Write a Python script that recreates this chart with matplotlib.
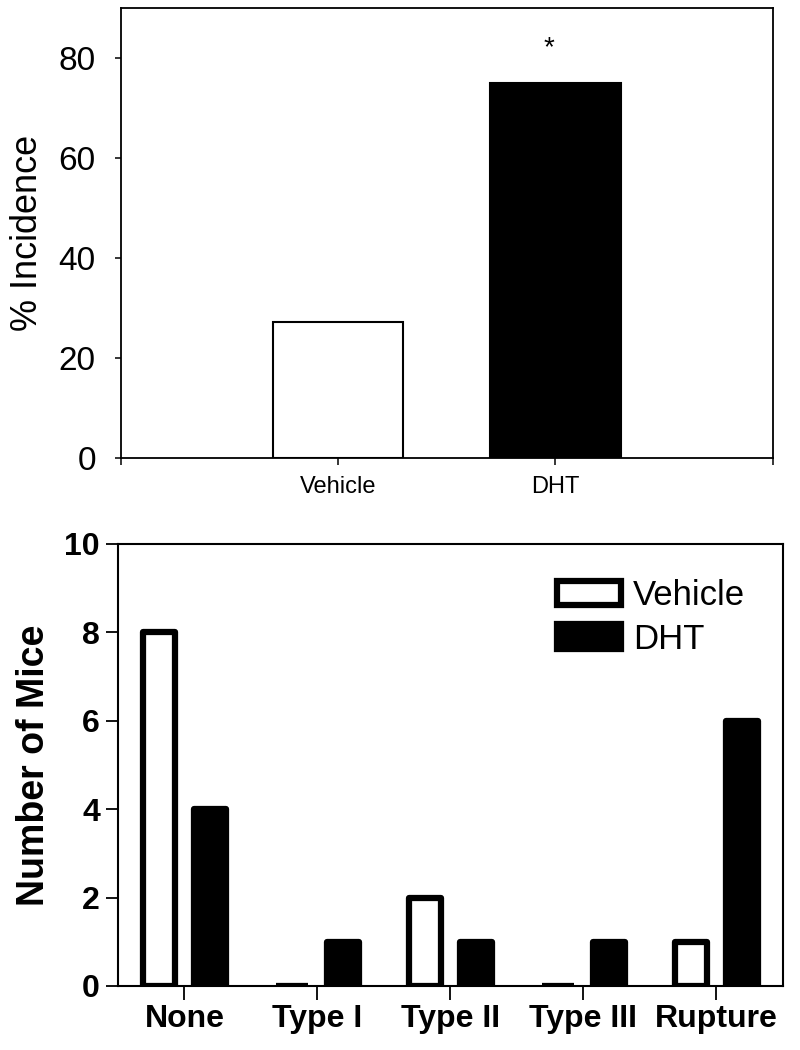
import matplotlib
matplotlib.use("Agg")
import matplotlib.pyplot as plt
import numpy as np

plt.rcParams["font.family"] = ["Liberation Sans", "DejaVu Sans"]

# top panel: % incidence
groups = ["Vehicle", "DHT"]
incidence = [27.3, 75.0]
incidence_colors = ["white", "black"]
star_label = "*"
star_height = 82

# bottom panel: number of mice by category
categories = ["None", "Type I", "Type II", "Type III", "Rupture"]
vehicle_counts = [8, 0, 2, 0, 1]
dht_counts = [4, 1, 1, 1, 6]

fig = plt.figure(figsize=(8, 10.5), dpi=100)

# ---- top panel
ax1 = fig.add_axes([0.151, 0.5638, 0.815, 0.4286])
xpos = np.arange(1, len(groups) + 1)
ax1.bar(xpos, incidence, width=0.6, color=incidence_colors,
        edgecolor="black", linewidth=1.5, zorder=2)
ax1.text(xpos[1] - 0.03, star_height, star_label, ha="center", va="center", fontsize=20)
ax1.set_xlim(0, 3)
ax1.set_ylim(0, 90)
ax1.set_xticks([0, 1, 2, 3])
ax1.set_xticklabels(["", groups[0], groups[1], ""], fontsize=17)
ax1.set_yticks([0, 20, 40, 60, 80])
ax1.tick_params(axis="y", labelsize=24, length=4, width=1.1, pad=14)
ax1.tick_params(axis="x", length=5, width=1.1, pad=8)
ax1.set_ylabel("% Incidence", fontsize=26, labelpad=10)
for sp in ax1.spines.values():
    sp.set_linewidth(1.3)

# ---- bottom panel
ax2 = fig.add_axes([0.1475, 0.061, 0.831, 0.421])
xc = np.arange(len(categories))
off = 0.19
bw = 0.24
ax2.bar(xc - off, vehicle_counts, width=bw, color="white", edgecolor="black",
        linewidth=4.5, joinstyle="round", label="Vehicle", zorder=2)
ax2.bar(xc + off, dht_counts, width=bw, color="black", edgecolor="black",
        linewidth=4.5, joinstyle="round", label="DHT", zorder=2)
ax2.set_xlim(-0.5, 4.5)
ax2.set_ylim(0, 10)
ax2.set_xticks(xc)
ax2.set_xticklabels(categories, fontsize=23, fontweight="bold")
ax2.set_yticks([0, 2, 4, 6, 8, 10])
for lab in ax2.get_yticklabels():
    lab.set_fontweight("bold")
ax2.tick_params(axis="y", labelsize=23, length=9, width=1.3, pad=4)
ax2.tick_params(axis="x", length=10, width=1.3, pad=3)
ax2.set_ylabel("Number of Mice", fontsize=27, fontweight="bold", labelpad=9)
for sp in ax2.spines.values():
    sp.set_linewidth(1.5)

ax2.legend(loc="upper left", bbox_to_anchor=(0.66, 0.92), frameon=False,
           fontsize=25, handlelength=1.85, handleheight=0.7,
           handletextpad=0.35, labelspacing=0.3, borderpad=0, borderaxespad=0)

fig.savefig("out.png", dpi=100)
